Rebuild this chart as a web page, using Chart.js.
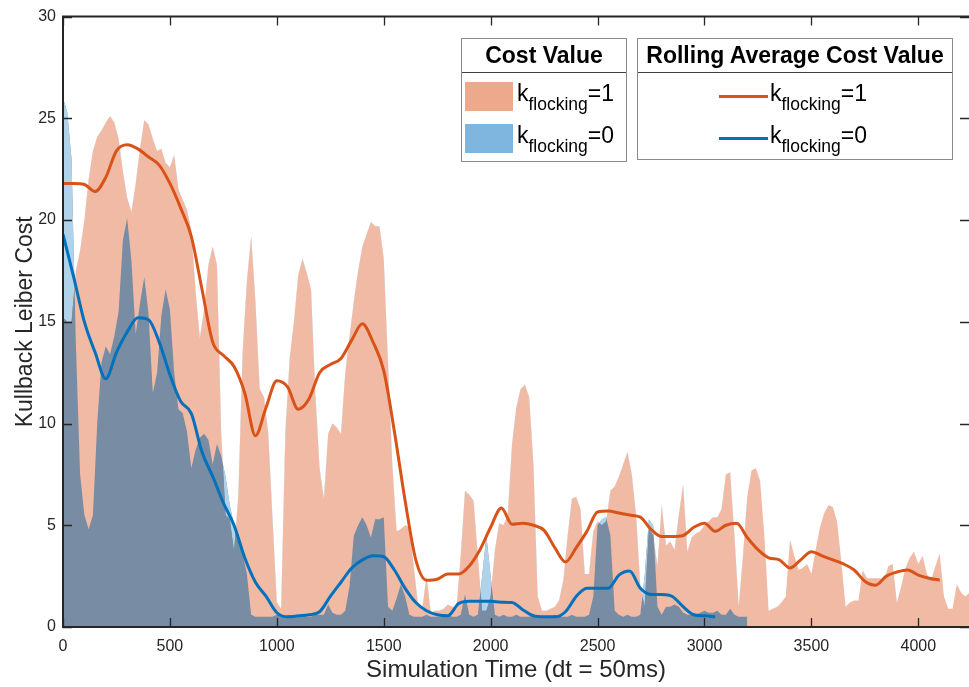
<!DOCTYPE html>
<html>
<head>
<meta charset="utf-8">
<script src="https://cdn.jsdelivr.net/npm/chart.js@4.4.1/dist/chart.umd.min.js"></script>
<style>
  html, body { margin: 0; padding: 0; background: #fff; overflow: hidden; }
  #wrap { position: relative; width: 969px; height: 687px; overflow: hidden;
          font-family: "Liberation Sans", Arial, Helvetica, sans-serif; color: #000; }
  #wrap canvas { position: absolute; left: 0; top: 0; }
  .box { position: absolute; background: #fff; border: 1.5px solid #8c8c8c; box-sizing: border-box; }
  .head { position: absolute; text-align: center; font-weight: bold; font-size: 23px; line-height: 35px; }
  .sep { position: absolute; height: 1px; background: #404040; }
  .item { position: absolute; font-size: 23px; line-height: 23px; white-space: nowrap; }
  .item sub { font-size: 17.5px; line-height: 0; vertical-align: -9px; }
  .swatch { position: absolute; width: 48px; height: 29px; }
  .stroke { position: absolute; width: 49px; height: 3px; }
</style>
</head>
<body>
<div id="wrap">
  <canvas id="costChart" width="969" height="687"></canvas>

  <div class="box" style="left:461px;top:38px;width:166px;height:124px"></div>
  <div class="head" style="left:461px;top:38px;width:166px">Cost Value</div>
  <div class="sep" style="left:462px;top:72px;width:164px"></div>
  <div class="swatch" style="left:465px;top:82px;background:#EDA98B"></div>
  <div class="swatch" style="left:465px;top:124px;background:#7FB6DF"></div>
  <div class="item" style="left:517px;top:81.5px">k<sub>flocking</sub>=1</div>
  <div class="item" style="left:517px;top:123.5px">k<sub>flocking</sub>=0</div>

  <div class="box" style="left:637px;top:38px;width:316px;height:122px"></div>
  <div class="head" style="left:637px;top:38px;width:316px">Rolling Average Cost Value</div>
  <div class="sep" style="left:638px;top:72px;width:314px"></div>
  <div class="stroke" style="left:719px;top:94.5px;background:#D95319"></div>
  <div class="stroke" style="left:719px;top:136.5px;background:#0072BD"></div>
  <div class="item" style="left:770px;top:81.5px">k<sub>flocking</sub>=1</div>
  <div class="item" style="left:770px;top:123.5px">k<sub>flocking</sub>=0</div>
</div>

<script>
// sample interval (simulation steps) of the read-off series
const COST_STEP = 20;
const ROLL_STEP = 50;

// Cost value, k_flocking = 1, t = 0..4240
const costK1 = [
  15.2, 15.0, 15.0, 17.5, 18.5, 20.0, 22.0, 23.4, 24.1, 24.4,
  24.8, 25.1, 24.8, 24.0, 22.4, 21.1, 20.4, 21.8, 23.5, 24.9,
  24.7, 24.0, 23.4, 23.5, 22.8, 22.6, 23.2, 21.5, 21.0, 20.5,
  19.5, 16.5, 14.2, 15.6, 17.8, 18.7, 17.8, 9.5, 5.5, 5.3,
  3.7, 6.5, 13.5, 17.0, 19.2, 16.0, 11.7, 11.3, 9.5, 5.3,
  1.2, 0.9, 9.6, 13.2, 15.0, 17.3, 18.1, 17.4, 16.6, 11.5,
  7.8, 6.3, 9.5, 10.0, 9.8, 9.5, 12.5, 14.3, 16.0, 17.5,
  18.7, 19.3, 19.9, 19.7, 19.7, 18.1, 13.0, 8.0, 4.7, 4.8,
  5.0, 4.9, 3.0, 1.1, 0.9, 2.5, 0.7, 0.8, 0.8, 0.9,
  1.1, 1.0, 0.9, 3.5, 6.7, 6.5, 6.2, 3.5, 0.8, 0.8,
  1.5, 3.8, 5.1, 5.0, 5.5, 9.0, 10.8, 11.7, 11.9, 11.3,
  8.0, 1.5, 0.8, 0.8, 0.9, 1.0, 1.3, 2.3, 4.5, 6.3,
  6.4, 5.8, 2.6, 2.6, 4.7, 5.2, 5.0, 5.2, 6.7, 6.9,
  7.4, 8.0, 8.6, 7.5, 5.5, 2.0, 1.0, 4.8, 4.5, 3.0,
  6.0, 4.0, 4.2, 3.8, 5.5, 7.0, 3.7, 4.4, 4.6, 4.7,
  5.0, 5.2, 5.4, 5.4, 5.8, 7.5, 7.6, 4.5, 1.0, 3.5,
  6.4, 7.7, 7.8, 7.2, 4.5, 0.8, 0.9, 1.0, 1.2, 1.5,
  4.3, 3.5, 2.8, 2.9, 3.1, 2.6, 3.8, 4.9, 5.6, 6.0,
  5.9, 5.2, 3.2, 1.0, 1.2, 1.3, 1.3, 2.8, 2.4, 2.4,
  2.4, 2.4, 2.3, 3.0, 3.1, 1.2, 2.0, 2.9, 3.4, 3.7,
  3.1, 3.5, 2.6, 2.3, 3.0, 3.6, 1.5, 0.9, 0.9, 2.1,
  1.7, 1.5, 1.7
];

// Cost value, k_flocking = 0, t = 0..3200
const costK0 = [
  26.0, 25.3, 23.0, 14.0, 7.5, 5.5, 4.8, 5.5, 10.0, 13.0,
  13.8, 13.4, 14.3, 15.5, 19.0, 20.1, 18.0, 14.4, 15.9, 17.2,
  15.4, 11.5, 12.5, 15.3, 16.6, 15.6, 12.5, 10.7, 10.5, 9.6,
  7.8, 8.7, 9.3, 9.5, 9.2, 8.0, 9.0, 8.4, 7.4, 6.0,
  5.0, 4.6, 3.6, 2.6, 0.6, 0.5, 0.5, 0.5, 0.5, 0.5,
  0.6, 0.5, 0.5, 0.6, 0.5, 0.5, 0.6, 0.5, 0.5, 0.6,
  0.6, 0.6, 1.1, 0.7, 0.6, 0.6, 0.8, 2.0, 4.5, 5.0,
  5.4, 5.0, 4.4, 5.3, 5.3, 5.4, 1.0, 0.8, 1.4, 2.1,
  1.5, 0.6, 0.5, 0.5, 0.5, 0.6, 0.5, 0.5, 0.5, 0.5,
  0.6, 0.5, 0.5, 0.6, 1.6, 0.6, 0.5, 0.6, 2.5, 4.5,
  2.5, 0.6, 0.5, 0.6, 0.5, 0.5, 0.6, 0.5, 0.5, 0.5,
  0.6, 0.5, 0.5, 0.5, 0.5, 0.6, 0.5, 0.5, 0.5, 0.6,
  0.5, 0.5, 0.5, 0.6, 1.5, 5.0, 5.3, 5.4, 4.5, 0.8,
  0.6, 0.5, 0.6, 0.5, 0.5, 0.6, 2.5, 5.3, 5.0, 1.0,
  0.6, 1.0, 1.0, 1.1, 1.0, 0.7, 0.6, 0.6, 0.6, 0.7,
  0.8, 0.7, 0.7, 0.8, 0.6, 0.6, 0.9, 0.6, 0.5, 0.5,
  0.5
];

// Rolling average cost, k_flocking = 1, t = 0..4100
const rollK1 = [
  21.8, 21.8, 21.75, 21.4, 22.1, 23.4, 23.7, 23.5, 23.1, 22.7,
  21.8, 20.6, 19.2, 16.6, 14.0, 13.35, 12.8, 11.5, 9.4, 10.8,
  12.1, 11.8, 10.7, 11.2, 12.5, 12.9, 13.2, 14.1, 14.9, 14.0,
  12.6, 9.6, 6.2, 3.3, 2.3, 2.35, 2.6, 2.6, 3.0, 3.8,
  4.9, 5.85, 5.05, 5.1, 5.0, 4.75, 3.9, 3.2, 3.9, 4.7,
  5.65, 5.7, 5.6, 5.5, 5.4, 4.8, 4.45, 4.45, 4.5, 4.9,
  5.1, 4.7, 5.0, 5.1, 4.4, 3.8, 3.4, 3.3, 2.9, 3.3,
  3.7, 3.5, 3.3, 3.1, 2.8, 2.25, 2.05, 2.5, 2.7, 2.8,
  2.55, 2.4, 2.3
];

// Rolling average cost, k_flocking = 0, t = 0..3050
const rollK0 = [
  19.3, 17.2, 15.0, 13.5, 12.2, 13.5, 14.5, 15.2, 15.1, 14.0,
  12.4, 11.1, 10.5, 8.6, 7.4, 6.1, 5.0, 3.4, 2.2, 1.5,
  0.7, 0.5, 0.55, 0.6, 0.75, 1.5, 2.2, 2.9, 3.3, 3.5,
  3.45, 2.8, 1.9, 1.2, 0.8, 0.6, 0.55, 1.15, 1.27, 1.27,
  1.27, 1.22, 1.2, 0.85, 0.55, 0.5, 0.5, 0.75, 1.5, 1.9,
  1.9, 1.9, 2.55, 2.75, 1.9, 1.6, 1.6, 1.5, 1.0, 0.6,
  0.55, 0.5
];

const xTickValues = [0, 500, 1000, 1500, 2000, 2500, 3000, 3500, 4000];
const yTickValues = [0, 5, 10, 15, 20, 25, 30];

const X_MAX = 4237;
const Y_MAX = 30;
const FONT = '"Liberation Sans", Arial, Helvetica, sans-serif';
const AXIS_COLOR = '#262626';

const SALMON = 'rgb(240,186,164)';
const SLATE = 'rgb(120,140,163)';
const LIGHT_BLUE = 'rgb(176,211,234)';

function toPoints(values, step) {
  return values.map((v, i) => ({ x: i * step, y: v }));
}

// MATLAB-style box with inward ticks (right edge sits at the canvas border)
const framePlugin = {
  id: 'frame',
  afterDatasetsDraw(chart) {
    const { ctx, chartArea: a, scales: { x, y } } = chart;
    const len = 9;
    ctx.save();
    ctx.strokeStyle = AXIS_COLOR;
    ctx.lineWidth = 1.3;
    ctx.beginPath();
    x.ticks.forEach(t => {
      const px = Math.round(x.getPixelForValue(t.value)) + 0.5;
      ctx.moveTo(px, a.bottom); ctx.lineTo(px, a.bottom - len);
      ctx.moveTo(px, a.top); ctx.lineTo(px, a.top + len);
    });
    y.ticks.forEach(t => {
      const py = Math.round(y.getPixelForValue(t.value)) + 0.5;
      ctx.moveTo(a.left, py); ctx.lineTo(a.left + len, py);
      ctx.moveTo(a.right, py); ctx.lineTo(a.right - len, py);
    });
    ctx.stroke();
    ctx.lineWidth = 2;
    ctx.beginPath();
    ctx.moveTo(a.right, a.top);
    ctx.lineTo(a.left, a.top);
    ctx.lineTo(a.left, a.bottom);
    ctx.lineTo(a.right, a.bottom);
    ctx.stroke();
    ctx.restore();
  }
};

const ctx = document.getElementById('costChart').getContext('2d');

new Chart(ctx, {
  type: 'line',
  data: {
    datasets: [
      {
        // k=1 cost area
        data: toPoints(costK1, COST_STEP),
        fill: 'origin',
        backgroundColor: SALMON,
        borderWidth: 0,
        pointRadius: 0,
        tension: 0,
        order: 5
      },
      {
        // k=0 cost area (overlap colour)
        data: toPoints(costK0, COST_STEP),
        fill: 'origin',
        backgroundColor: SLATE,
        borderWidth: 0,
        pointRadius: 0,
        tension: 0,
        order: 4
      },
      {
        // k=0 part sticking out above k=1
        data: toPoints(costK0, COST_STEP),
        fill: { target: 0, above: LIGHT_BLUE, below: 'rgba(0,0,0,0)' },
        borderWidth: 0,
        pointRadius: 0,
        tension: 0,
        order: 3
      },
      {
        data: toPoints(rollK1, ROLL_STEP),
        borderColor: '#D95319',
        borderWidth: 3,
        pointRadius: 0,
        fill: false,
        cubicInterpolationMode: 'monotone',
        order: 2
      },
      {
        data: toPoints(rollK0, ROLL_STEP),
        borderColor: '#0072BD',
        borderWidth: 3,
        pointRadius: 0,
        fill: false,
        cubicInterpolationMode: 'monotone',
        order: 1
      }
    ]
  },
  options: {
    responsive: false,
    animation: false,
    events: [],
    layout: { padding: { top: 13, right: 0, left: 0, bottom: 0 } },
    plugins: {
      legend: { display: false },
      tooltip: { enabled: false }
    },
    scales: {
      x: {
        type: 'linear',
        min: 0,
        max: X_MAX,
        grid: { display: false, drawTicks: false },
        border: { display: false },
        afterBuildTicks(scale) {
          scale.ticks = xTickValues.map(v => ({ value: v }));
        },
        ticks: {
          padding: 10,
          maxRotation: 0,
          autoSkip: false,
          color: AXIS_COLOR,
          font: { family: FONT, size: 16 },
          callback: v => String(v)
        },
        title: {
          display: true,
          text: 'Simulation Time (dt = 50ms)',
          color: AXIS_COLOR,
          font: { family: FONT, size: 24 },
          padding: { top: 0, bottom: 2 }
        },
        afterFit(scale) { scale.height = 60; }
      },
      y: {
        min: 0,
        max: Y_MAX,
        grid: { display: false, drawTicks: false },
        border: { display: false },
        afterBuildTicks(scale) {
          scale.ticks = yTickValues.map(v => ({ value: v }));
        },
        ticks: {
          padding: 7,
          color: AXIS_COLOR,
          font: { family: FONT, size: 16 },
          callback: v => String(v)
        },
        title: {
          display: true,
          text: 'Kullback Leiber Cost',
          color: AXIS_COLOR,
          font: { family: FONT, size: 23 },
          padding: { top: 12, bottom: 0 }
        },
        afterFit(scale) { scale.width = 63; }
      }
    }
  },
  plugins: [framePlugin]
});
</script>
</body>
</html>
